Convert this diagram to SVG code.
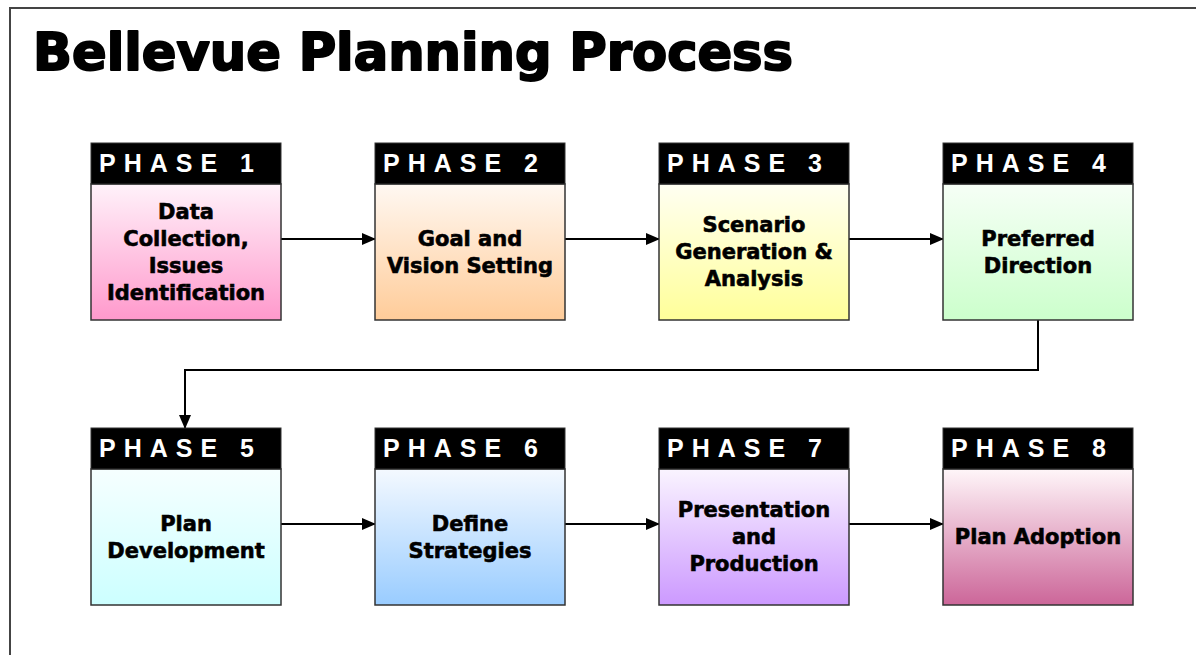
<svg xmlns="http://www.w3.org/2000/svg" width="1196" height="655" viewBox="0 0 1196 655">
<style>
.frame{fill:none;stroke:#444;stroke-width:2}
.title{font-family:"DejaVu Sans",sans-serif;font-weight:bold;font-size:51px;fill:#000;stroke:#000;stroke-width:2;stroke-linejoin:round}
.hdr{fill:#000;stroke:#333;stroke-width:1}
.hdrt{font-family:"Liberation Sans",Arial,sans-serif;font-weight:bold;font-size:25px;fill:#fff;letter-spacing:8px}
.body{stroke:#333;stroke-width:1.5}
.bt{font-family:"DejaVu Sans",sans-serif;font-weight:bold;font-size:21px;fill:#000;stroke:#000;stroke-width:0.6;text-anchor:middle}
.conn{fill:none;stroke:#000;stroke-width:2}
</style>
<defs>
<marker id="ah" markerWidth="14" markerHeight="12" refX="13" refY="6" orient="auto" markerUnits="userSpaceOnUse"><path d="M0,0 L14,6 L0,12 z" fill="#000"/></marker>
<linearGradient id="g1" x1="0" y1="0" x2="0" y2="1"><stop offset="0" stop-color="#fff2fa"/><stop offset="1" stop-color="#ff99cc"/></linearGradient>
<linearGradient id="g2" x1="0" y1="0" x2="0" y2="1"><stop offset="0" stop-color="#fff8f2"/><stop offset="1" stop-color="#ffcc99"/></linearGradient>
<linearGradient id="g3" x1="0" y1="0" x2="0" y2="1"><stop offset="0" stop-color="#fffff2"/><stop offset="1" stop-color="#ffff99"/></linearGradient>
<linearGradient id="g4" x1="0" y1="0" x2="0" y2="1"><stop offset="0" stop-color="#f6fff6"/><stop offset="1" stop-color="#ccffcc"/></linearGradient>
<linearGradient id="g5" x1="0" y1="0" x2="0" y2="1"><stop offset="0" stop-color="#f6ffff"/><stop offset="1" stop-color="#ccffff"/></linearGradient>
<linearGradient id="g6" x1="0" y1="0" x2="0" y2="1"><stop offset="0" stop-color="#f4f9ff"/><stop offset="1" stop-color="#99ccff"/></linearGradient>
<linearGradient id="g7" x1="0" y1="0" x2="0" y2="1"><stop offset="0" stop-color="#faf4ff"/><stop offset="1" stop-color="#cc99ff"/></linearGradient>
<linearGradient id="g8" x1="0" y1="0" x2="0" y2="1"><stop offset="0" stop-color="#fff6f9"/><stop offset="1" stop-color="#cc6699"/></linearGradient>
</defs>
<rect width="1196" height="655" fill="#fff"/>
<path class="frame" d="M10,655 L10,8 L1196,8"/>
<text class="title" x="33" y="70" textLength="760" lengthAdjust="spacingAndGlyphs">Bellevue Planning Process</text>

<g id="connectors">
<line class="conn" x1="281" y1="239" x2="375" y2="239" marker-end="url(#ah)"/>
<line class="conn" x1="565" y1="239" x2="659" y2="239" marker-end="url(#ah)"/>
<line class="conn" x1="849" y1="239" x2="943" y2="239" marker-end="url(#ah)"/>
<path class="conn" d="M1038,320 L1038,370 L185,370 L185,428" marker-end="url(#ah)"/>
<line class="conn" x1="281" y1="524" x2="375" y2="524" marker-end="url(#ah)"/>
<line class="conn" x1="565" y1="524" x2="659" y2="524" marker-end="url(#ah)"/>
<line class="conn" x1="849" y1="524" x2="943" y2="524" marker-end="url(#ah)"/>
</g>

<g id="phase1">
<rect class="body" x="91" y="184" width="190" height="136" fill="url(#g1)"/>
<rect class="hdr" x="91" y="143" width="190" height="41"/>
<text class="hdrt" x="99" y="172">PHASE 1</text>
<text class="bt" x="186" y="219">Data</text>
<text class="bt" x="186" y="246">Collection,</text>
<text class="bt" x="186" y="273">Issues</text>
<text class="bt" x="186" y="300">Identification</text>
</g>
<g id="phase2">
<rect class="body" x="375" y="184" width="190" height="136" fill="url(#g2)"/>
<rect class="hdr" x="375" y="143" width="190" height="41"/>
<text class="hdrt" x="383" y="172">PHASE 2</text>
<text class="bt" x="470" y="246">Goal and</text>
<text class="bt" x="470" y="273">Vision Setting</text>
</g>
<g id="phase3">
<rect class="body" x="659" y="184" width="190" height="136" fill="url(#g3)"/>
<rect class="hdr" x="659" y="143" width="190" height="41"/>
<text class="hdrt" x="667" y="172">PHASE 3</text>
<text class="bt" x="754" y="232">Scenario</text>
<text class="bt" x="754" y="259">Generation &amp;</text>
<text class="bt" x="754" y="286">Analysis</text>
</g>
<g id="phase4">
<rect class="body" x="943" y="184" width="190" height="136" fill="url(#g4)"/>
<rect class="hdr" x="943" y="143" width="190" height="41"/>
<text class="hdrt" x="951" y="172">PHASE 4</text>
<text class="bt" x="1038" y="246">Preferred</text>
<text class="bt" x="1038" y="273">Direction</text>
</g>
<g id="phase5">
<rect class="body" x="91" y="469" width="190" height="136" fill="url(#g5)"/>
<rect class="hdr" x="91" y="428" width="190" height="41"/>
<text class="hdrt" x="99" y="457">PHASE 5</text>
<text class="bt" x="186" y="531">Plan</text>
<text class="bt" x="186" y="558">Development</text>
</g>
<g id="phase6">
<rect class="body" x="375" y="469" width="190" height="136" fill="url(#g6)"/>
<rect class="hdr" x="375" y="428" width="190" height="41"/>
<text class="hdrt" x="383" y="457">PHASE 6</text>
<text class="bt" x="470" y="531">Define</text>
<text class="bt" x="470" y="558">Strategies</text>
</g>
<g id="phase7">
<rect class="body" x="659" y="469" width="190" height="136" fill="url(#g7)"/>
<rect class="hdr" x="659" y="428" width="190" height="41"/>
<text class="hdrt" x="667" y="457">PHASE 7</text>
<text class="bt" x="754" y="517">Presentation</text>
<text class="bt" x="754" y="544">and</text>
<text class="bt" x="754" y="571">Production</text>
</g>
<g id="phase8">
<rect class="body" x="943" y="469" width="190" height="136" fill="url(#g8)"/>
<rect class="hdr" x="943" y="428" width="190" height="41"/>
<text class="hdrt" x="951" y="457">PHASE 8</text>
<text class="bt" x="1038" y="544">Plan Adoption</text>
</g>
</svg>
